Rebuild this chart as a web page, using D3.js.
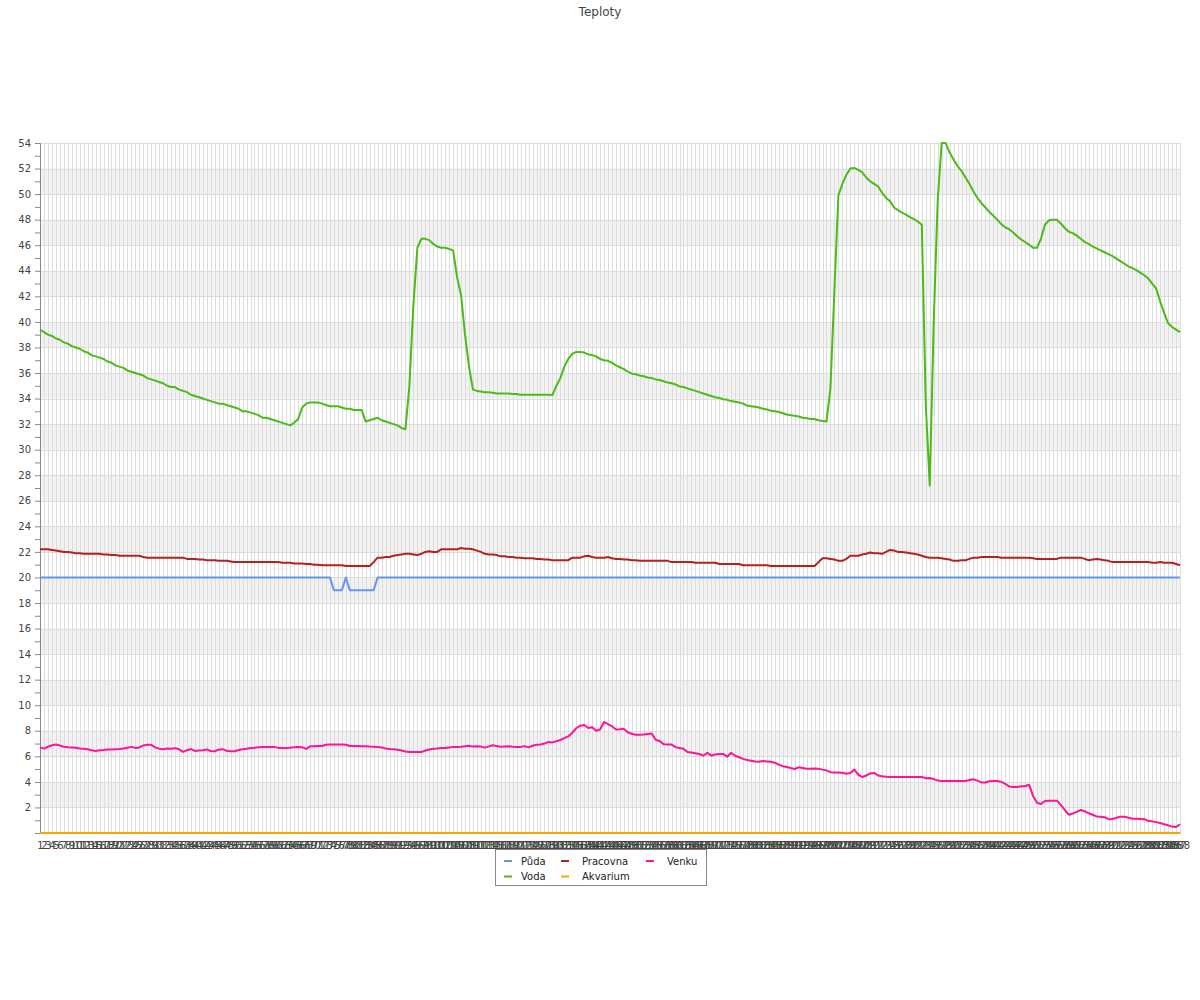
<!DOCTYPE html>
<html>
<head>
<meta charset="utf-8">
<script src="https://cdn.jsdelivr.net/npm/d3@7"></script>
<style>
  html, body { margin: 0; padding: 0; background: #fff; }
  svg { display: block; font-family: "DejaVu Sans", sans-serif; }
</style>
</head>
<body>
<svg id="chart" width="1200" height="1000"></svg>
<script>
const title = "Teploty";
const seriesNames = ["Půda", "Voda", "Pracovna", "Akvarium", "Venku"];
const seriesColors = ["#6495ed", "#4cbb17", "#b22222", "#ffa500", "#ff1493"];
const yTicks = [2,4,6,8,10,12,14,16,18,20,22,24,26,28,30,32,34,36,38,40,42,44,46,48,50,52,54];

const puda = [
20,20,20,20,20,20,20,20,20,20,20,20,20,20,20,20,20,20,20,20,20,20,20,20,
20,20,20,20,20,20,20,20,20,20,20,20,20,20,20,20,20,20,20,20,20,20,20,20,
20,20,20,20,20,20,20,20,20,20,20,20,20,20,20,20,20,20,20,20,20,20,20,20,
20,20,19,19,19,20,19,19,19,19,19,19,19,20,20,20,20,20,20,20,20,20,20,20,
20,20,20,20,20,20,20,20,20,20,20,20,20,20,20,20,20,20,20,20,20,20,20,20,
20,20,20,20,20,20,20,20,20,20,20,20,20,20,20,20,20,20,20,20,20,20,20,20,
20,20,20,20,20,20,20,20,20,20,20,20,20,20,20,20,20,20,20,20,20,20,20,20,
20,20,20,20,20,20,20,20,20,20,20,20,20,20,20,20,20,20,20,20,20,20,20,20,
20,20,20,20,20,20,20,20,20,20,20,20,20,20,20,20,20,20,20,20,20,20,20,20,
20,20,20,20,20,20,20,20,20,20,20,20,20,20,20,20,20,20,20,20,20,20,20,20,
20,20,20,20,20,20,20,20,20,20,20,20,20,20,20,20,20,20,20,20,20,20,20,20,
20,20,20,20,20,20,20,20,20,20,20,20,20,20,20,20,20,20,20,20,20,20,20,20
];

const voda = [
39.4,39.2,39.0,38.9,38.7,38.6,38.4,38.3,38.1,38.0,
37.9,37.7,37.6,37.4,37.3,37.2,37.1,36.9,36.8,36.6,
36.5,36.4,36.2,36.1,36.0,35.9,35.8,35.6,35.5,35.4,
35.3,35.2,35.0,34.9,34.9,34.7,34.6,34.5,34.3,34.2,
34.1,34.0,33.9,33.8,33.7,33.6,33.6,33.5,33.4,33.3,
33.2,33.0,33.0,32.9,32.8,32.7,32.5,32.5,32.4,32.3,
32.2,32.1,32.0,31.9,32.1,32.4,33.3,33.6,33.7,33.7,
33.7,33.6,33.5,33.4,33.4,33.4,33.3,33.2,33.2,33.1,
33.1,33.1,32.2,32.3,32.4,32.5,32.3,32.2,32.1,32.0,
31.9,31.7,31.6,35.0,41.3,45.8,46.5,46.5,46.4,46.1,
45.9,45.8,45.8,45.7,45.6,43.5,42.1,39.0,36.5,34.7,
34.6,34.55,34.5,34.5,34.45,34.4,34.4,34.4,34.4,34.35,
34.35,34.3,34.3,34.3,34.3,34.3,34.3,34.3,34.3,34.27,
35.0,35.6,36.5,37.1,37.5,37.65,37.65,37.6,37.45,37.4,
37.3,37.1,37.0,36.95,36.8,36.6,36.45,36.3,36.1,35.95,
35.9,35.8,35.75,35.65,35.6,35.5,35.45,35.35,35.25,35.2,
35.1,34.95,34.9,34.8,34.7,34.6,34.5,34.4,34.3,34.2,
34.1,34.05,33.95,33.9,33.8,33.75,33.7,33.6,33.45,33.4,
33.35,33.3,33.2,33.15,33.05,33.0,32.95,32.85,32.75,32.7,
32.65,32.6,32.5,32.45,32.4,32.4,32.3,32.25,32.2,34.8,
42.5,49.9,50.8,51.5,52.0,52.05,51.9,51.7,51.3,51.0,
50.8,50.6,50.1,49.7,49.45,48.95,48.75,48.55,48.4,48.2,
48.05,47.85,47.6,33.5,27.2,40.0,49.5,54.0,54.0,53.25,
52.7,52.2,51.8,51.3,50.8,50.2,49.7,49.3,48.95,48.6,
48.3,48.0,47.65,47.4,47.25,47.0,46.7,46.45,46.25,46.05,
45.8,45.8,46.5,47.6,47.95,48.0,48.0,47.7,47.35,47.05,
46.95,46.75,46.5,46.25,46.1,45.9,45.75,45.6,45.45,45.3,
45.15,44.95,44.75,44.55,44.35,44.2,44.05,43.85,43.65,43.4,
43.0,42.6,41.6,40.7,39.9,39.6,39.4,39.2
];

const pracovna = [
22.2,22.2,22.2,22.15,22.1,22.05,22.0,22.0,21.95,21.9,
21.9,21.85,21.85,21.85,21.85,21.85,21.8,21.8,21.75,21.75,
21.7,21.7,21.7,21.7,21.7,21.7,21.6,21.55,21.55,21.55,
21.55,21.55,21.55,21.55,21.55,21.55,21.55,21.45,21.45,21.45,
21.4,21.4,21.35,21.35,21.35,21.3,21.3,21.3,21.25,21.2,
21.2,21.2,21.2,21.2,21.2,21.2,21.2,21.2,21.2,21.2,
21.2,21.15,21.15,21.15,21.1,21.1,21.1,21.05,21.05,21.0,
21.0,20.95,20.95,20.95,20.95,20.95,20.95,20.9,20.9,20.9,
20.9,20.9,20.9,20.9,21.2,21.55,21.55,21.6,21.6,21.7,
21.75,21.8,21.85,21.85,21.8,21.75,21.85,22.0,22.05,22.0,
22.0,22.2,22.2,22.2,22.2,22.2,22.3,22.25,22.25,22.2,
22.1,22.0,21.85,21.8,21.8,21.75,21.65,21.65,21.6,21.6,
21.55,21.55,21.5,21.5,21.5,21.45,21.45,21.4,21.4,21.35,
21.35,21.35,21.35,21.35,21.55,21.55,21.55,21.65,21.7,21.6,
21.55,21.55,21.55,21.6,21.5,21.45,21.45,21.4,21.4,21.35,
21.35,21.3,21.3,21.3,21.3,21.3,21.3,21.3,21.3,21.2,
21.2,21.2,21.2,21.2,21.2,21.15,21.15,21.15,21.15,21.15,
21.15,21.05,21.05,21.05,21.05,21.05,21.05,20.95,20.95,20.95,
20.95,20.95,20.95,20.95,20.9,20.9,20.9,20.9,20.9,20.9,
20.9,20.9,20.9,20.9,20.9,20.9,21.2,21.5,21.5,21.45,
21.4,21.3,21.3,21.45,21.7,21.7,21.7,21.8,21.85,21.95,
21.9,21.9,21.85,22.0,22.15,22.1,22.0,22.0,21.95,21.9,
21.85,21.8,21.7,21.6,21.55,21.55,21.55,21.5,21.45,21.4,
21.3,21.3,21.35,21.35,21.45,21.55,21.55,21.6,21.6,21.6,
21.6,21.6,21.55,21.55,21.55,21.55,21.55,21.55,21.55,21.55,
21.5,21.45,21.45,21.45,21.45,21.45,21.45,21.55,21.55,21.55,
21.55,21.55,21.55,21.45,21.35,21.4,21.45,21.4,21.35,21.3,
21.2,21.2,21.2,21.2,21.2,21.2,21.2,21.2,21.2,21.2,
21.15,21.15,21.2,21.15,21.15,21.15,21.05,20.95
];

const akvarium = [
0,0,0,0,0,0,0,0,0,0,0,0,0,0,0,0,0,0,0,0,0,0,0,0,
0,0,0,0,0,0,0,0,0,0,0,0,0,0,0,0,0,0,0,0,0,0,0,0,
0,0,0,0,0,0,0,0,0,0,0,0,0,0,0,0,0,0,0,0,0,0,0,0,
0,0,0,0,0,0,0,0,0,0,0,0,0,0,0,0,0,0,0,0,0,0,0,0,
0,0,0,0,0,0,0,0,0,0,0,0,0,0,0,0,0,0,0,0,0,0,0,0,
0,0,0,0,0,0,0,0,0,0,0,0,0,0,0,0,0,0,0,0,0,0,0,0,
0,0,0,0,0,0,0,0,0,0,0,0,0,0,0,0,0,0,0,0,0,0,0,0,
0,0,0,0,0,0,0,0,0,0,0,0,0,0,0,0,0,0,0,0,0,0,0,0,
0,0,0,0,0,0,0,0,0,0,0,0,0,0,0,0,0,0,0,0,0,0,0,0,
0,0,0,0,0,0,0,0,0,0,0,0,0,0,0,0,0,0,0,0,0,0,0,0,
0,0,0,0,0,0,0,0,0,0,0,0,0,0,0,0,0,0,0,0,0,0,0,0,
0,0,0,0,0,0,0,0,0,0,0,0,0,0,0,0,0,0,0,0,0,0,0,0
];

const venku = [
6.7,6.6,6.75,6.87,6.92,6.85,6.75,6.72,6.7,6.68,
6.62,6.6,6.55,6.48,6.42,6.48,6.5,6.53,6.53,6.55,
6.57,6.62,6.68,6.74,6.66,6.7,6.85,6.9,6.9,6.7,
6.6,6.55,6.62,6.6,6.64,6.55,6.35,6.48,6.57,6.42,
6.45,6.48,6.54,6.42,6.4,6.52,6.56,6.43,6.4,6.4,
6.5,6.56,6.6,6.65,6.68,6.72,6.74,6.74,6.74,6.74,
6.66,6.66,6.66,6.67,6.72,6.74,6.72,6.58,6.78,6.79,
6.8,6.81,6.9,6.92,6.92,6.92,6.92,6.9,6.81,6.8,
6.8,6.79,6.78,6.76,6.75,6.74,6.7,6.62,6.58,6.55,
6.52,6.45,6.38,6.34,6.34,6.34,6.34,6.45,6.54,6.6,
6.62,6.65,6.66,6.7,6.74,6.74,6.75,6.79,6.83,6.76,
6.78,6.76,6.68,6.78,6.87,6.8,6.75,6.77,6.78,6.75,
6.74,6.74,6.8,6.7,6.83,6.9,6.92,7.0,7.13,7.09,
7.18,7.28,7.43,7.56,7.85,8.2,8.4,8.45,8.22,8.28,
8.0,8.1,8.69,8.52,8.35,8.1,8.12,8.15,7.86,7.77,
7.68,7.68,7.7,7.74,7.78,7.3,7.2,6.95,6.92,6.92,
6.72,6.66,6.6,6.34,6.3,6.24,6.18,6.05,6.28,6.06,
6.14,6.19,6.19,5.97,6.28,6.05,5.93,5.8,5.72,5.66,
5.6,5.57,5.63,5.6,5.57,5.5,5.35,5.23,5.16,5.08,
5.01,5.14,5.08,5.02,5.02,5.04,5.02,4.96,4.9,4.76,
4.73,4.73,4.72,4.64,4.7,4.96,4.56,4.38,4.5,4.66,
4.7,4.5,4.44,4.41,4.39,4.39,4.39,4.39,4.39,4.39,
4.39,4.39,4.39,4.28,4.3,4.22,4.1,4.07,4.07,4.07,
4.07,4.07,4.07,4.07,4.15,4.2,4.1,3.96,3.95,4.05,
4.07,4.07,4.0,3.85,3.64,3.6,3.6,3.65,3.66,3.78,
2.9,2.37,2.27,2.5,2.53,2.53,2.53,2.2,1.8,1.43,
1.52,1.66,1.8,1.7,1.55,1.43,1.3,1.28,1.24,1.08,
1.1,1.2,1.28,1.28,1.2,1.12,1.11,1.1,1.08,0.95,
0.91,0.85,0.78,0.68,0.6,0.5,0.47,0.68
];

const categories = voda.map((d, i) => String(i + 1));
const seriesValues = [puda, voda, pracovna, akvarium, venku];

const svg = d3.select("#chart");
const M = { left: 40, right: 1180, top: 143, bottom: 833 };

const x = d3.scalePoint().domain(categories).range([M.left, M.right]);
const y = d3.scaleLinear().domain([0, 54]).range([M.bottom, M.top]);

// title
svg.append("text").attr("x", 600).attr("y", 16).attr("text-anchor", "middle")
  .attr("font-size", 12).attr("fill", "#444").text(title);

// bands
const bandStarts = yTicks.filter(v => v % 4 === 2 && v < 54);
svg.append("g").selectAll("rect").data(bandStarts).join("rect")
  .attr("x", M.left).attr("width", M.right - M.left)
  .attr("y", d => y(d + 2)).attr("height", d => y(d) - y(d + 2))
  .attr("fill", "#f2f2f2");

// vertical grid
svg.append("g").selectAll("line").data(categories).join("line")
  .attr("x1", d => Math.round(x(d)) + 0.5).attr("x2", d => Math.round(x(d)) + 0.5)
  .attr("y1", M.top).attr("y2", M.bottom)
  .attr("stroke", "#dddddd").attr("stroke-width", 1);

// horizontal grid
svg.append("g").selectAll("line").data(yTicks).join("line")
  .attr("x1", M.left).attr("x2", M.right)
  .attr("y1", d => Math.round(y(d)) + 0.5).attr("y2", d => Math.round(y(d)) + 0.5)
  .attr("stroke", "#dddddd").attr("stroke-width", 1);

// y axis
const yAxis = svg.append("g").attr("transform", `translate(${M.left},0)`)
  .call(d3.axisLeft(y).tickValues(yTicks).tickSize(5).tickPadding(4).tickFormat(d3.format("d")));
yAxis.selectAll("text").attr("font-size", 10).attr("fill", "#444").attr("font-family", "DejaVu Sans");
yAxis.selectAll("line").attr("stroke", "#888");
yAxis.select(".domain").attr("stroke", "#888");
const minor = svg.append("g").attr("transform", `translate(${M.left},0)`)
  .call(d3.axisLeft(y).tickValues(d3.range(1, 54, 2)).tickSize(5).tickFormat(""));
minor.selectAll("line").attr("stroke", "#888");
minor.select(".domain").remove();

// x axis
const xAxis = svg.append("g").attr("transform", `translate(0,${M.bottom})`)
  .call(d3.axisBottom(x).tickSize(0).tickPadding(9));
xAxis.select(".domain").attr("stroke", "#888");
xAxis.selectAll("text").attr("font-size", 10).attr("fill", "#444").attr("font-family", "DejaVu Sans");

// lines
const line = d3.line().x((d, i) => x(categories[i])).y(d => y(d));
svg.append("g").selectAll("path").data(seriesValues).join("path")
  .attr("d", d => line(d))
  .attr("fill", "none")
  .attr("stroke", (d, i) => seriesColors[i])
  .attr("stroke-width", 2)
  .attr("stroke-linejoin", "round");

// legend
const legend = svg.append("g");
legend.append("rect").attr("x", 495.5).attr("y", 849.5).attr("width", 211).attr("height", 36)
  .attr("fill", "#fff").attr("stroke", "#888");
const swatchX = [504, 561, 646];
const textX = [521, 582, 667];
const rowY = [861, 876.5];
const items = legend.selectAll("g.item").data(seriesNames).join("g")
  .attr("transform", (d, i) => `translate(0,${rowY[i % 2]})`);
items.append("line")
  .attr("x1", (d, i) => swatchX[Math.floor(i / 2)])
  .attr("x2", (d, i) => swatchX[Math.floor(i / 2)] + 8)
  .attr("y1", 0).attr("y2", 0)
  .attr("stroke", (d, i) => seriesColors[i]).attr("stroke-width", 2);
items.append("text")
  .attr("x", (d, i) => textX[Math.floor(i / 2)])
  .attr("y", 3.5).attr("font-size", 10).attr("fill", "#222")
  .text(d => d);
</script>
</body>
</html>
